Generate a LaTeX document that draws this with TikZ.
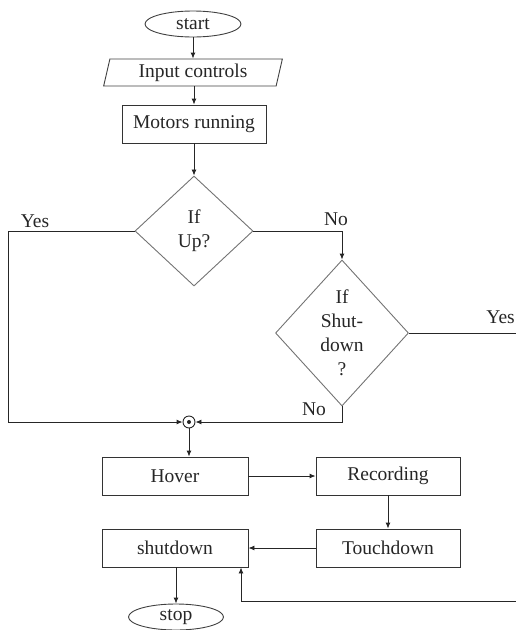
\documentclass[tikz,border=0pt]{standalone}
\usepackage{fontspec}
\setmainfont{Liberation Serif}
\usetikzlibrary{shapes.geometric,arrows.meta}
\begin{document}
\begin{tikzpicture}[x=1pt,y=-1pt,
  every node/.style={font=\fontsize{19.5}{24}\selectfont, text=black!85},
  line/.style={draw=black!85, line width=0.9pt},
  arr/.style={line, -{Latex[length=6pt,width=5pt]}},
  term/.style={ellipse, draw=black!75, line width=0.9pt, inner sep=0pt},
  procbox/.style={rectangle, draw=black!80, line width=0.9pt, inner sep=0pt},
  decision/.style={diamond, draw=black!55, line width=0.9pt, inner sep=0pt, align=center},
  io/.style={trapezium, trapezium left angle=77, trapezium right angle=103, draw=black!75, line width=0.9pt, inner sep=0pt}
]
\clip (0,0) rectangle (516,630);
\useasboundingbox (0,0) rectangle (516,630);

\node[term, minimum width=96, minimum height=26] (start) at (193,24) {start};
\node[io, minimum width=162, minimum height=27] (input) at (193,72.5) {Input controls};
\node[procbox, minimum width=144, minimum height=38] (motors) at (194,124) {Motors running};
\node[decision, minimum width=118, minimum height=110] (d1) at (194,231) {If\\Up?};
\node[decision, minimum width=133, minimum height=146] (d2) at (342,333) {If\\Shut-\\down\\?};
\node[circle, draw=black!85, line width=0.9pt, minimum size=12, inner sep=0pt] (j) at (189,422) {};
\fill[black!85] (j.center) circle (2);
\node[procbox, minimum width=146, minimum height=38] (hover) at (175,476) {Hover};
\node[procbox, minimum width=144, minimum height=38] (rec) at (388,476) {Recording};
\node[procbox, minimum width=144, minimum height=38] (touch) at (388,548) {Touchdown};
\node[procbox, minimum width=146, minimum height=38] (shut) at (175,548) {shutdown};
\node[term, minimum width=95, minimum height=26] (stop) at (176,617) {stop};

\coordinate (lcorner) at (8,422);
\coordinate (ncorner) at (342,422);
\coordinate (redge) at (520,333);
\coordinate (redgeb) at (520,601);
\coordinate (bcorner) at (241,601);

\draw[arr] (start) -- (input.north -| start);
\draw[arr] (input.south -| motors) -- (motors);
\draw[arr] (motors) -- (d1);
\draw[arr] (d1.west) -| (lcorner) -- (j.west);
\draw[arr] (d1.east) -| (d2.north);
\draw[arr] (d2.south) -- (ncorner) -- (j.east);
\draw[line] (d2.east) -- (redge);
\draw[arr] (j) -- (j |- hover.north);
\draw[arr] (hover) -- (rec);
\draw[arr] (rec) -- (touch);
\draw[arr] (touch) -- (shut);
\draw[arr] (redgeb) -- (bcorner) -- (bcorner |- shut.south);
\draw[arr] (shut.south -| stop) -- (stop);

\node (lyes) at (35,221) {Yes};
\node (lno) at (336,219) {No};
\node[anchor=east, inner sep=0pt] (lyes2) at (515,317) {Yes};
\node (lno2) at (314,409) {No};
\end{tikzpicture}
\end{document}
